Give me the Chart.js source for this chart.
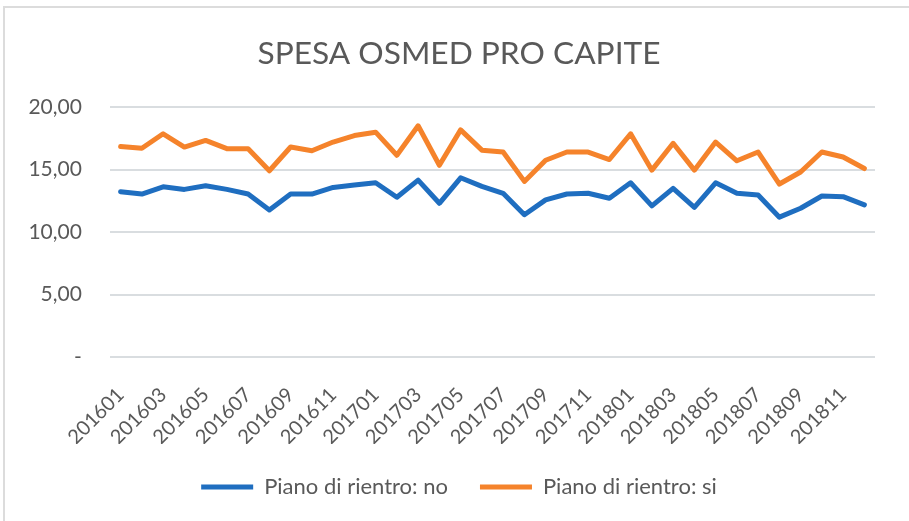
<!DOCTYPE html>
<html>
<head>
<meta charset="utf-8">
<script src="https://cdn.jsdelivr.net/npm/chart.js"></script>
<style>
  html, body { margin: 0; padding: 0; background: #fff; }
  #wrap { position: relative; width: 909px; height: 521px; }
  #frame { position: absolute; left: 3px; top: 6px; right: 0; bottom: 0;
           border-left: 2px solid #dcdcdc; border-top: 2px solid #dcdcdc; pointer-events: none; }
  canvas { position: absolute; left: 0; top: 0; }
</style>
</head>
<body>
<div id="wrap">
  <canvas id="chart" width="909" height="521"></canvas>
  <div id="frame"></div>
</div>
<script>
// months 201601 .. 201812
const months = [
  '201601','201602','201603','201604','201605','201606','201607','201608','201609','201610','201611','201612',
  '201701','201702','201703','201704','201705','201706','201707','201708','201709','201710','201711','201712',
  '201801','201802','201803','201804','201805','201806','201807','201808','201809','201810','201811','201812'
];

// Piano di rientro: no
const pianoNo = [
  13.23, 13.04, 13.62, 13.41, 13.70, 13.41, 13.04, 11.77, 13.04, 13.04, 13.57, 13.76,
  13.94, 12.78, 14.15, 12.30, 14.34, 13.65, 13.10, 11.38, 12.57, 13.04, 13.10, 12.70,
  13.94, 12.09, 13.49, 11.98, 13.94, 13.10, 12.96, 11.19, 11.90, 12.88, 12.83, 12.17
];

// Piano di rientro: si
const pianoSi = [
  16.85, 16.70, 17.86, 16.80, 17.33, 16.67, 16.67, 14.90, 16.80, 16.50, 17.20, 17.72,
  17.99, 16.14, 18.50, 15.34, 18.17, 16.55, 16.40, 14.05, 15.74, 16.40, 16.40, 15.80,
  17.86, 14.95, 17.10, 14.95, 17.20, 15.70, 16.40, 13.84, 14.80, 16.40, 16.00, 15.08
];

const yTicks = [0, 5, 10, 15, 20];

const textColor = '#595959';
const fontFamily = 'Lato, "Open Sans", sans-serif';

const ctx = document.getElementById('chart').getContext('2d');
new Chart(ctx, {
  type: 'line',
  data: {
    labels: months,
    datasets: [
      {
        label: 'Piano di rientro: no',
        data: pianoNo,
        borderColor: '#1f6ec0',
        backgroundColor: '#1f6ec0',
        borderWidth: 5,
        tension: 0,
        pointRadius: 0,
        borderJoinStyle: 'round',
        borderCapStyle: 'round',
        fill: false
      },
      {
        label: 'Piano di rientro: si',
        data: pianoSi,
        borderColor: '#f5832b',
        backgroundColor: '#f5832b',
        borderWidth: 5,
        tension: 0,
        pointRadius: 0,
        borderJoinStyle: 'round',
        borderCapStyle: 'round',
        fill: false
      }
    ]
  },
  options: {
    responsive: false,
    animation: false,
    layout: {
      padding: { left: 43, right: 34, top: 0, bottom: 13 }
    },
    scales: {
      x: {
        offset: true,
        grid: { display: false },
        border: { display: false },
        afterFit: function(scale) { scale.height = 87; },
        ticks: {
          autoSkip: false,
          maxRotation: 45,
          minRotation: 45,
          padding: 18,
          color: textColor,
          font: { family: fontFamily, size: 20 },
          callback: function(value, index) {
            return index % 2 === 0 ? months[index] : null;
          }
        }
      },
      y: {
        min: 0,
        max: 20,
        afterFit: function(scale) { scale.width = 67; },
        afterBuildTicks: function(scale) {
          scale.ticks = yTicks.map(v => ({ value: v }));
        },
        grid: { color: '#d9dde0', lineWidth: 2, drawTicks: false },
        border: { display: false },
        ticks: {
          // mirrored so the labels are not clipped to the narrow axis box,
          // then pulled back left of the plot with a negative padding
          mirror: true,
          crossAlign: 'far',
          padding: -81.6,
          color: textColor,
          font: { family: fontFamily, size: 21 },
          callback: function(value) {
            if (value === 0) return '-';
            return value.toFixed(2).replace('.', ',');
          }
        }
      }
    },
    plugins: {
      title: {
        display: true,
        text: 'SPESA OSMED PRO CAPITE',
        color: textColor,
        font: { family: fontFamily, size: 31.7, weight: 'normal' },
        padding: { top: 35, bottom: 34 }
      },
      legend: {
        position: 'bottom',
        labels: {
          usePointStyle: true,
          pointStyle: 'line',
          pointStyleWidth: 52,
          boxWidth: 52,
          padding: 32,
          color: textColor,
          font: { family: fontFamily, size: 22 }
        }
      },
      tooltip: { enabled: false }
    }
  }
});
</script>
</body>
</html>
